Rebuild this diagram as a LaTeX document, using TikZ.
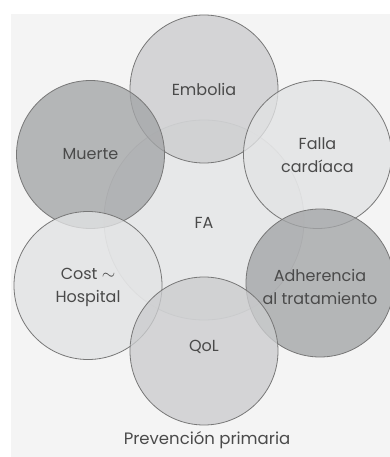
\documentclass[tikz,border=0pt]{standalone}
\usepackage{fontspec}
\setmainfont{Poppins}
\usepackage{tikz}
\usetikzlibrary{calc}
\definecolor{panel}{HTML}{F4F4F4}
\definecolor{ink}{HTML}{4A4A4A}
\definecolor{rim}{HTML}{777777}
\definecolor{dark}{HTML}{A3A5A7}
\definecolor{mid}{HTML}{CBCCCE}
\definecolor{pale}{HTML}{E2E3E4}
\definecolor{core}{HTML}{E4E5E6}
\tikzset{
  bubble/.style={circle,draw=rim,line width=0.8pt,minimum size=148pt,inner sep=0pt,
    fill opacity=0.78,text opacity=1,text=ink,align=center},
  label/.style={text=ink,align=center,font=\fontsize{16}{23}\selectfont},
}
\begin{document}
\begin{tikzpicture}[x=1pt,y=-1pt]
  \useasboundingbox (0,0) rectangle (390,457);
  \fill[white] (0,0) rectangle (390,457);
  \fill[panel] (11,14) rectangle (390,457);
  \def\r{131}
  % centre
  \node[bubble,draw=rim!40,fill=core,minimum size=200pt] (fa) at (204,220) {};
  % outer ring
  \node[bubble,fill=mid] (emb) at ($(fa)+(0,-\r)$) {};
  \node[bubble,fill=dark] (mue) at ($(fa)+(-113.5,-65.5)$) {};
  \node[bubble,fill=pale] (fal) at ($(fa)+(113.5,-65.5)$) {};
  \node[bubble,fill=pale] (cos) at ($(fa)+(-116,65.5)$) {};
  \node[bubble,fill=dark] (adh) at ($(fa)+(116,63)$) {};
  \node[bubble,fill=mid] (qol) at ($(fa)+(0,\r)$) {};
  % labels
  \node[label] (tfa) at ([yshift=-3]fa) {FA};
  \node[label] (temb) at (emb) {Embolia};
  \node[label] (tmue) at (mue) {Muerte};
  \node[label] (tfal) at ([yshift=-1]fal) {Falla\\cardíaca};
  \node[label] (tcos) at ([yshift=-2]cos) {Cost $\sim$\\Hospital};
  \node[label] (tadh) at ([yshift=-4]adh) {Adherencia\\al tratamiento};
  \node[label] (tqol) at ([yshift=4]qol) {QoL};
  \node[label,font=\fontsize{16.5}{23}\selectfont] (pp) at (207,440) {Prevención primaria};
\end{tikzpicture}
\end{document}
